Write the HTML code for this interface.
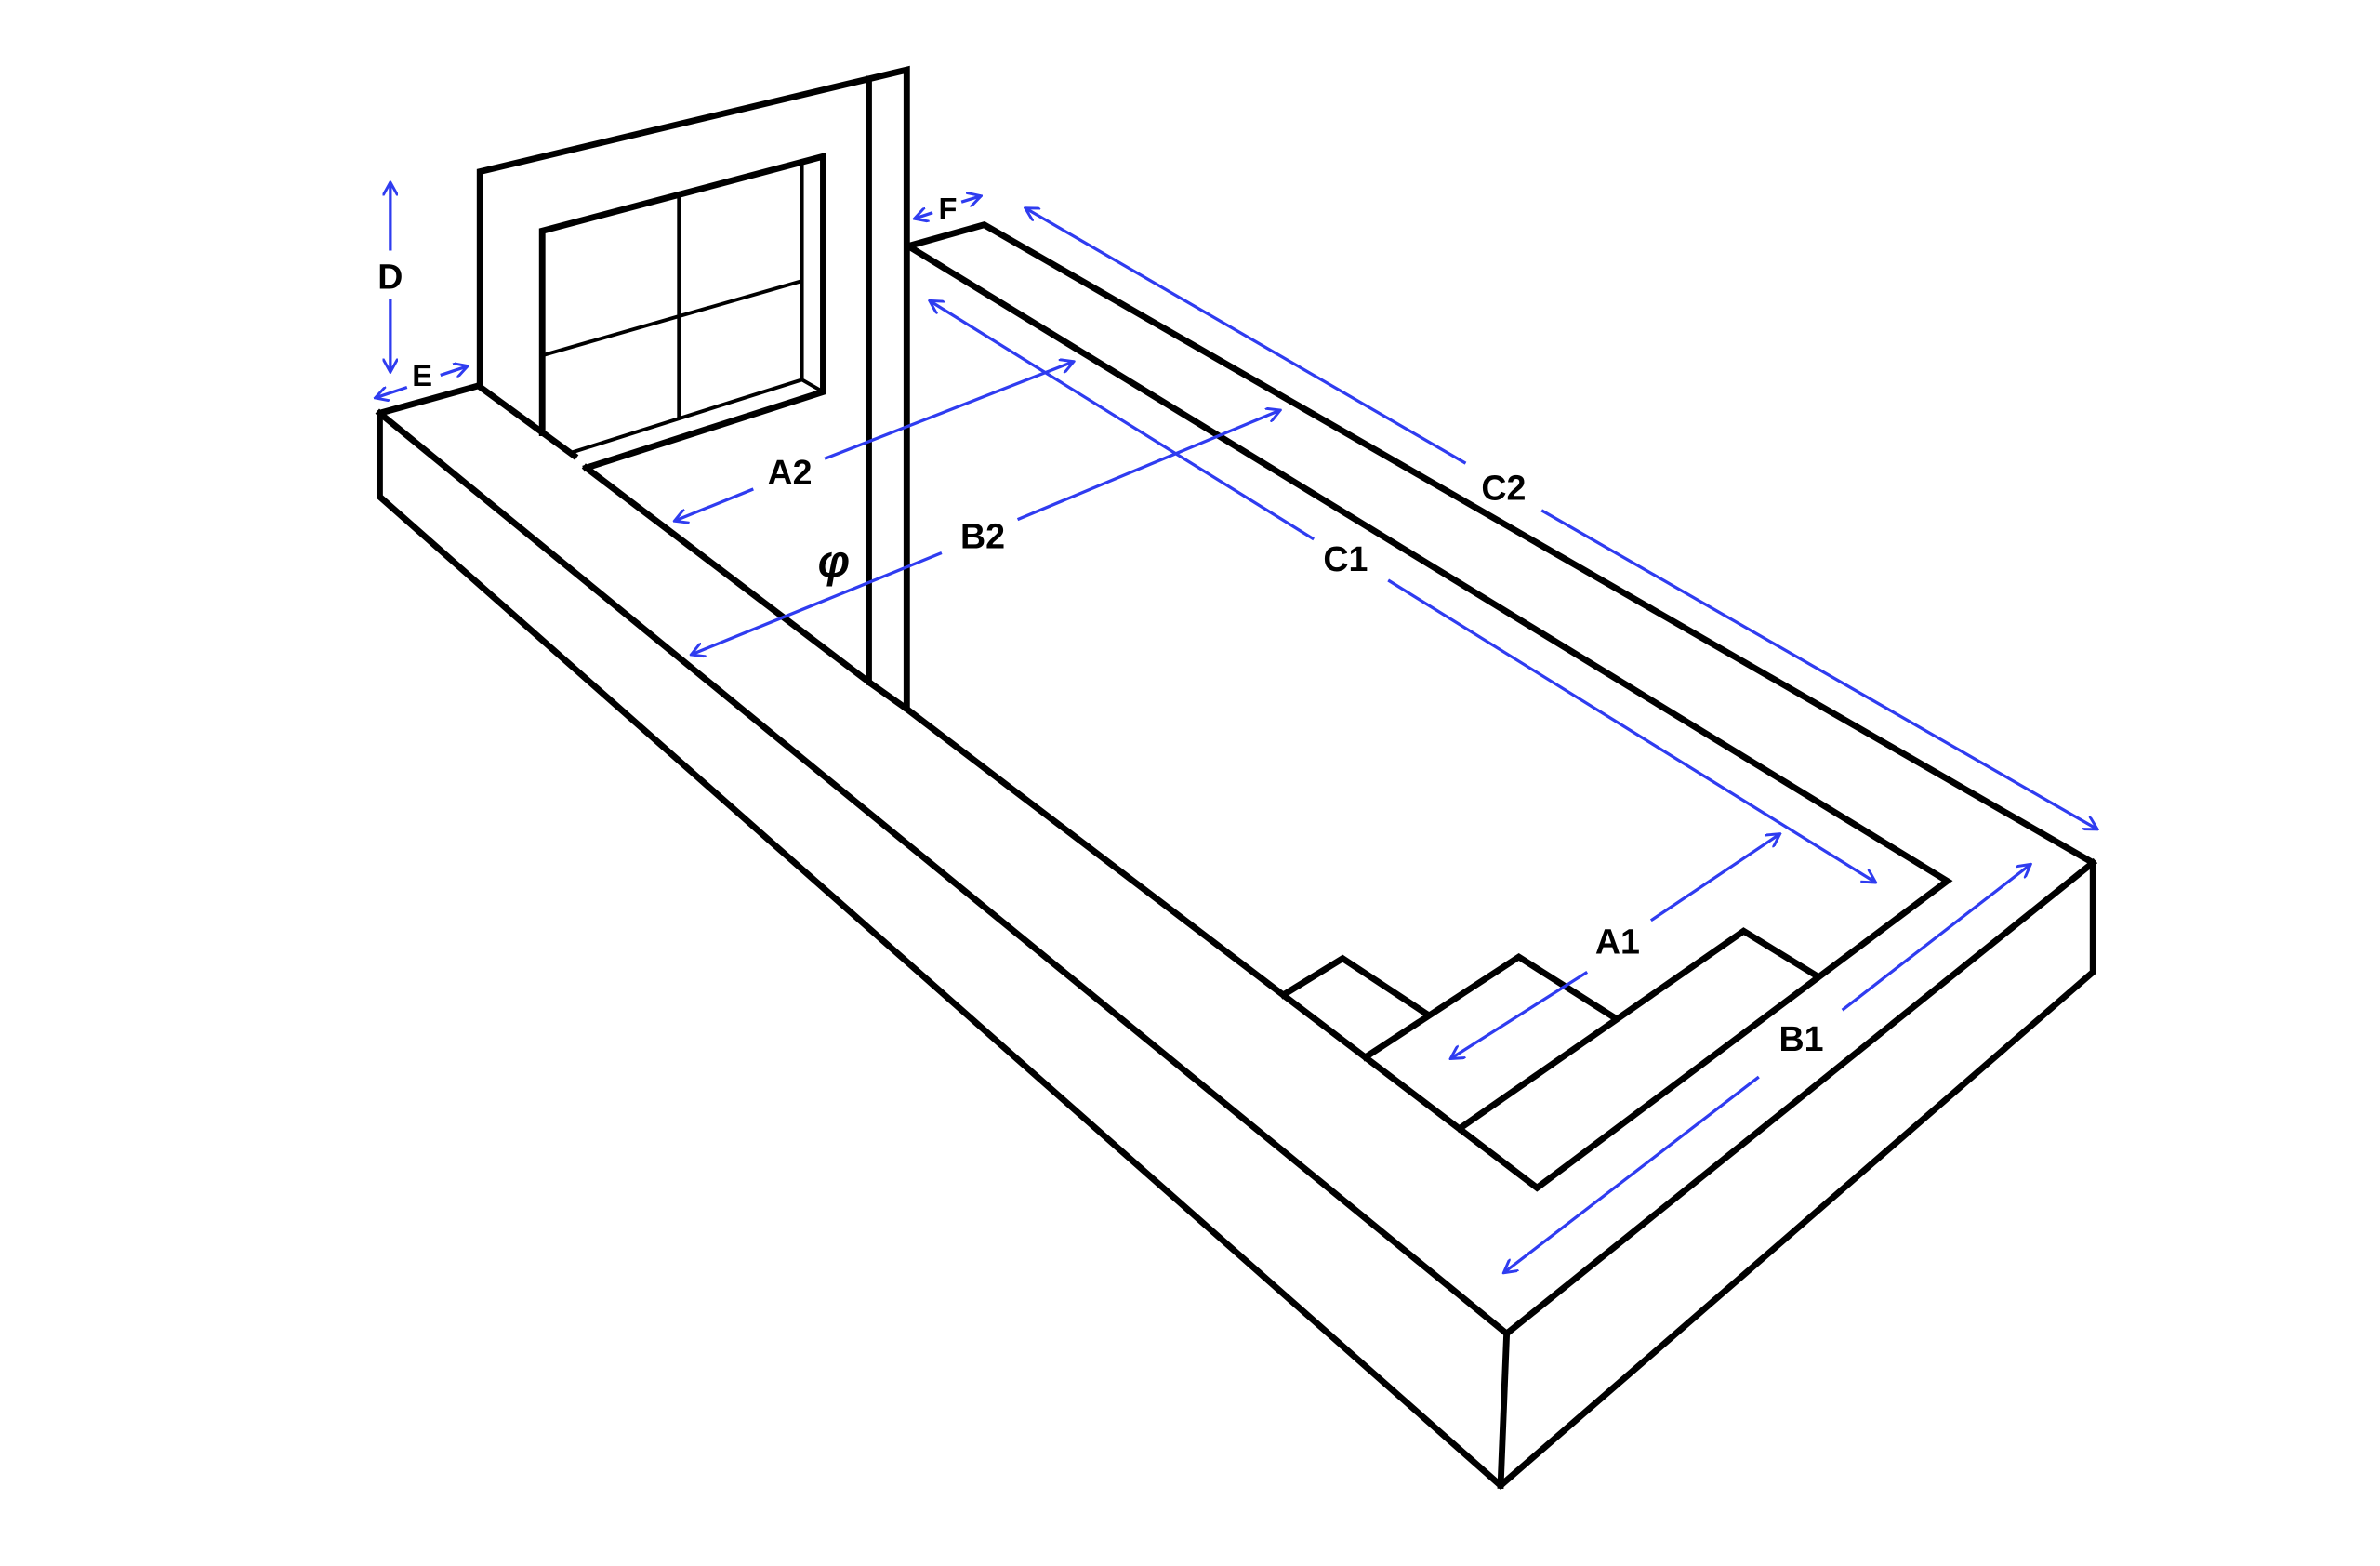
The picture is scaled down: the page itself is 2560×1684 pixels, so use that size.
<!DOCTYPE html>
<html><head><meta charset="utf-8"><style>
html,body{margin:0;padding:0;background:#fff;}
svg{display:block;}
text{font-family:"Liberation Sans",sans-serif;font-weight:bold;font-size:23px;fill:#000;text-anchor:middle;dominant-baseline:central;}
</style></head><body>
<svg width="2560" height="1684" viewBox="0 0 1567 1031" preserveAspectRatio="none" xmlns="http://www.w3.org/2000/svg">
<defs>
<marker id="a" viewBox="0 0 10 10" refX="9" refY="5" markerWidth="10" markerHeight="10" markerUnits="userSpaceOnUse" orient="auto-start-reverse">
<polyline points="0,0 9,5 0,10" fill="none" stroke="#2f3cf0" stroke-width="1.8"/>
</marker>
</defs>
<rect width="1567" height="1031" fill="#fff"/>
<g fill="none" stroke="#000" stroke-width="4.2" stroke-linejoin="miter" stroke-linecap="square">
<polyline points="315,254 250,272 250,327 988,978 1378,640 1378,568 648,148 598,162"/>
<polyline points="250,272 992,878 1378,568"/>
<line x1="992" y1="878" x2="988" y2="978"/>
<line x1="315" y1="254" x2="378" y2="300"/>
<line x1="386" y1="308" x2="572" y2="449"/>
<polyline points="596,466 1012,782 1282,580 598,162"/>
<polyline points="845,655 884,631 940,668"/>
<polyline points="899,696 1000,630 1063,670"/>
<polyline points="961,743 1148,613 1197,643"/>
<polyline points="316,254 316,113 597,46 597,466"/>
<line x1="572" y1="52" x2="572" y2="449"/>
<line x1="572" y1="449" x2="596" y2="466"/>
<polyline points="357,285 357,152 542,103 542,258 386,308"/>
</g>
<g fill="none" stroke="#000" stroke-width="2.4">
<polyline points="376,298 528,250 542,258"/>
<line x1="528" y1="108" x2="528" y2="250"/>
<line x1="447" y1="128" x2="447" y2="276"/>
<line x1="357" y1="234" x2="528" y2="185"/>
</g>
<g fill="none" stroke="#2f3cf0" stroke-width="2">
<line x1="257" y1="165" x2="257" y2="120" marker-end="url(#a)"/>
<line x1="257" y1="197" x2="257" y2="245" marker-end="url(#a)"/>
<line x1="268" y1="255" x2="247" y2="262" marker-end="url(#a)"/>
<line x1="290" y1="247" x2="308" y2="241" marker-end="url(#a)"/>
<line x1="614" y1="140" x2="602" y2="144" marker-end="url(#a)"/>
<line x1="633" y1="133" x2="646" y2="129" marker-end="url(#a)"/>
<line x1="496" y1="322" x2="444" y2="343" marker-end="url(#a)"/>
<line x1="543" y1="302" x2="707" y2="238" marker-end="url(#a)"/>
<line x1="620" y1="364" x2="455" y2="431" marker-end="url(#a)"/>
<line x1="670" y1="342" x2="843" y2="270" marker-end="url(#a)"/>
<line x1="865" y1="355" x2="612" y2="198" marker-end="url(#a)"/>
<line x1="914" y1="382" x2="1235" y2="581" marker-end="url(#a)"/>
<line x1="965" y1="305" x2="675" y2="137" marker-end="url(#a)"/>
<line x1="1015" y1="336" x2="1381" y2="546" marker-end="url(#a)"/>
<line x1="1045" y1="640" x2="955" y2="697" marker-end="url(#a)"/>
<line x1="1087" y1="606" x2="1172" y2="549" marker-end="url(#a)"/>
<line x1="1158" y1="709" x2="990" y2="838" marker-end="url(#a)"/>
<line x1="1213" y1="665" x2="1337" y2="569" marker-end="url(#a)"/>
</g>
<text x="257" y="182">D</text>
<text x="278" y="247" style="font-size:20px">E</text>
<text x="624" y="137" style="font-size:20px">F</text>
<text x="520" y="311">A2</text>
<text x="647" y="353">B2</text>
<text x="886" y="368">C1</text>
<text x="990" y="321">C2</text>
<text x="1065" y="620">A1</text>
<text x="1186" y="684">B1</text>
<text x="549" y="370" style="font-size:30px;font-style:italic">φ</text>
</svg>
</body></html>
